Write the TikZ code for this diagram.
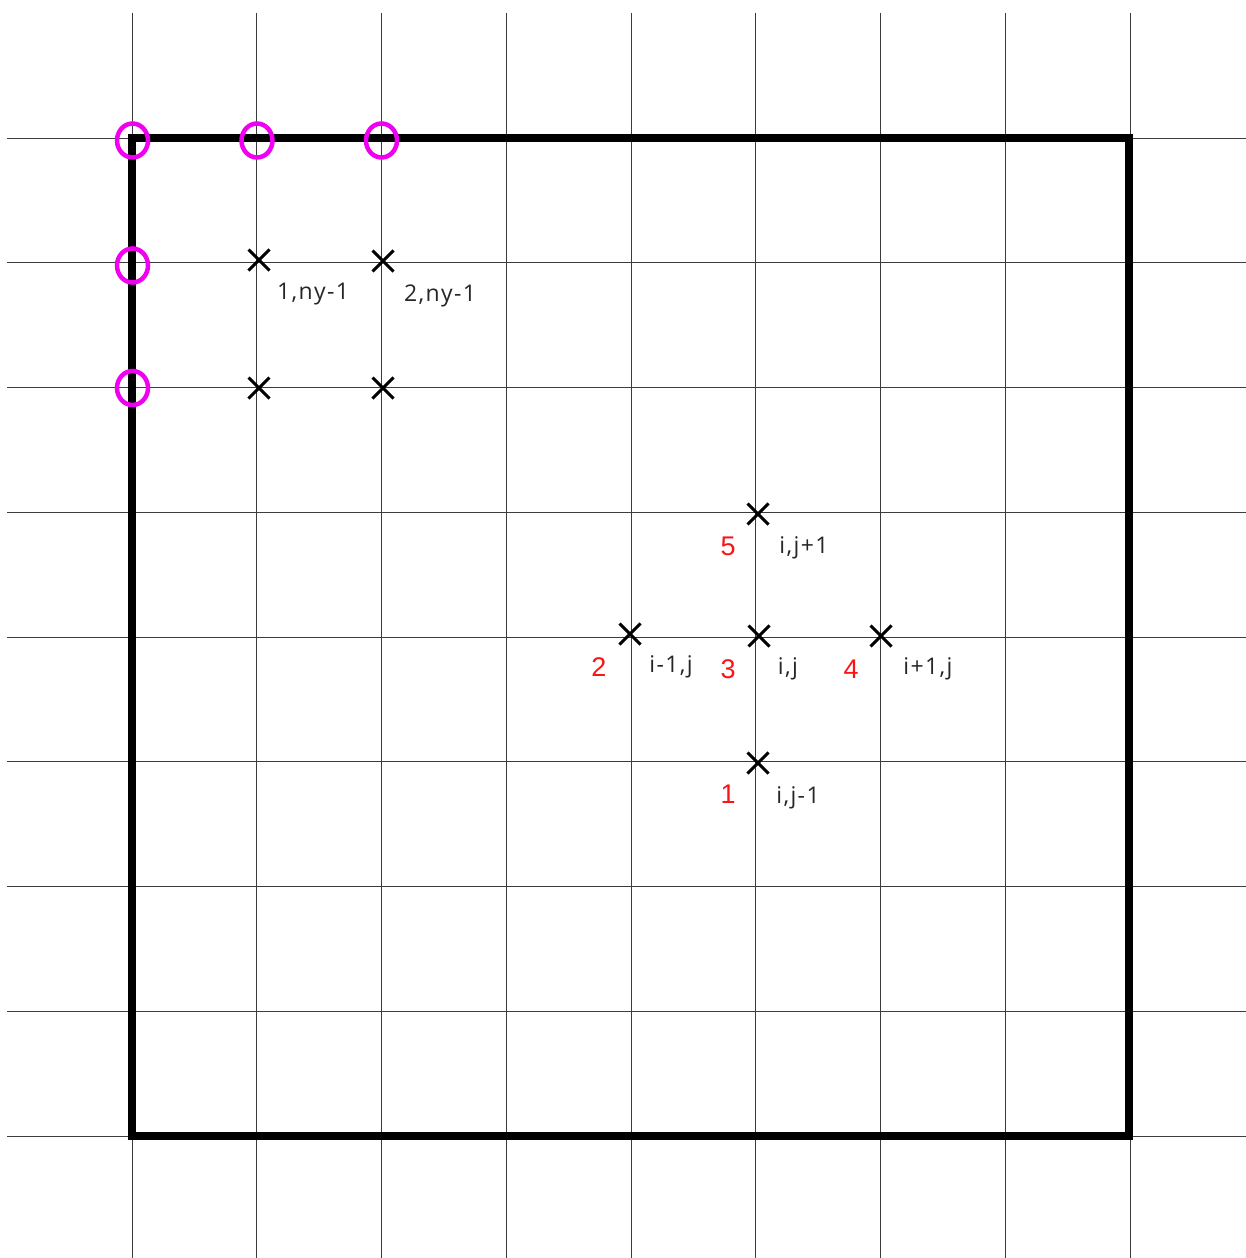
\documentclass[tikz,border=0pt]{standalone}
\usepackage{fontspec}
\setmainfont{Open Sans}[LetterSpace=6]
\newfontfamily\redfont{Liberation Sans}
\usetikzlibrary{shapes.misc,shapes.geometric}
\definecolor{gridc}{RGB}{60,60,60}
\definecolor{pinkc}{RGB}{240,0,240}
\definecolor{redc}{RGB}{250,20,20}
\begin{document}
\begin{tikzpicture}[x=1pt,y=-1pt,
  gridline/.style={draw=gridc,line width=1pt},
  boundary/.style={draw=black,line width=8pt},
  xmark/.style={draw=black,cross out,line width=3pt,minimum size=18pt,inner sep=0pt},
  omark/.style={draw=pinkc,ellipse,line width=4.5pt,minimum width=31pt,minimum height=34pt,inner sep=0pt},
  lbl/.style={font=\fontsize{23}{25}\selectfont,text=black!85,inner sep=0pt},
  num/.style={font=\redfont\fontsize{27}{29}\selectfont,text=redc,inner sep=0pt}]
\useasboundingbox (0,0) rectangle (1246,1258);
% grid
\foreach \k in {0,...,8}{
  \coordinate (vt\k) at (132+124.75*\k,13);
  \coordinate (vb\k) at (132+124.75*\k,1258);
  \coordinate (hl\k) at (7,138+124.75*\k);
  \coordinate (hr\k) at (1246,138+124.75*\k);
  \draw[gridline] (vt\k) -- (vb\k);
  \draw[gridline] (hl\k) -- (hr\k);
}
% boundary
\coordinate (bTL) at (132,138);
\coordinate (bBR) at (1129,1136);
\draw[boundary] (bTL) rectangle (bBR);
% magenta O markers
\node[omark] (o1) at (132.5,140.5) {};
\node[omark] (o2) at (257,140.5) {};
\node[omark] (o3) at (381.5,140.5) {};
\node[omark] (o4) at (132.5,265.5) {};
\node[omark] (o5) at (132.5,388) {};
% crosses
\node[xmark] (x1) at (259,260) {};
\node[xmark] (x2) at (383,261) {};
\node[xmark] (x3) at (259,388) {};
\node[xmark] (x4) at (383,388) {};
\node[xmark] (x5) at (758,514) {};
\node[xmark] (x6) at (630,634) {};
\node[xmark] (x7) at (759,636) {};
\node[xmark] (x8) at (881,636) {};
\node[xmark] (x9) at (758,763) {};
% labels
\node[lbl] (l1) at (313,294) {1,ny-1};
\node[lbl] (l2) at (440,296) {2,ny-1};
\node[lbl] (l3) at (804,548) {i,j+1};
\node[lbl] (l4) at (671,667) {i-1,j};
\node[lbl] (l5) at (788,669) {i,j};
\node[lbl] (l6) at (928,669) {i+1,j};
\node[lbl] (l7) at (798,798) {i,j-1};
% red numbers
\node[num] (n5) at (728,546) {5};
\node[num] (n2) at (599,667) {2};
\node[num] (n3) at (728,669) {3};
\node[num] (n4) at (851,669) {4};
\node[num] (n1) at (728,794) {1};
\end{tikzpicture}
\end{document}
